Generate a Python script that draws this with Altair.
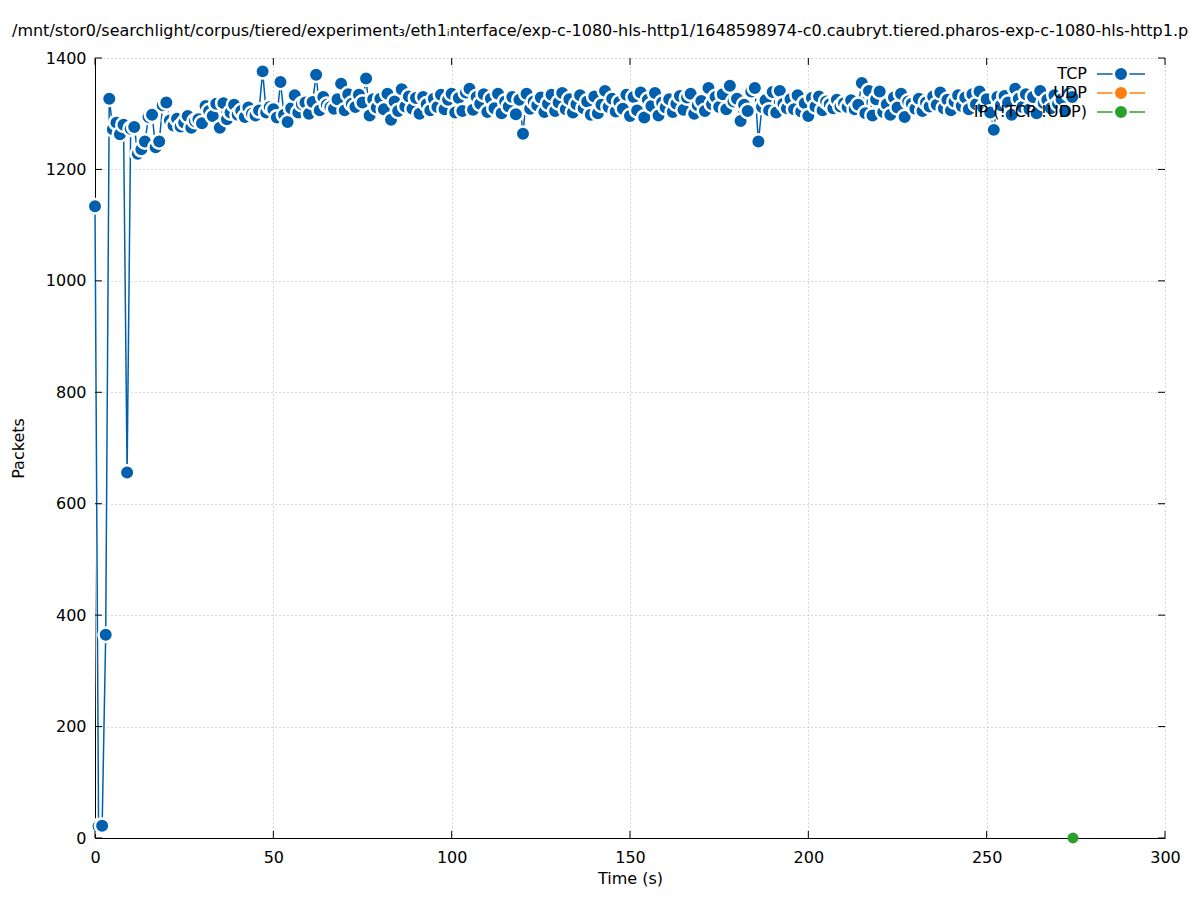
import altair as alt
import pandas as pd

# ---------------- data ----------------
title_text = ("/mnt/stor0/searchlight/corpus/tiered/experiment\u2083/eth1\u1d62nterface/"
              "exp-c-1080-hls-http1/1648598974-c0.caubryt.tiered.pharos-exp-c-1080-hls-http1.pcap")

series_names = ["TCP", "UDP", "IP (!TCP !UDP)"]
series_colors = ["#0060ad", "#ff7f0e", "#2ca02c"]

tcp_time = list(range(0, 275))
tcp_packets = [
    1134, 21, 22, 365, 1327, 1272, 1284, 1263, 1280, 656,
    1273, 1276, 1228, 1236, 1250, 1294, 1298, 1240, 1250, 1315,
    1320, 1288, 1279, 1291, 1277, 1284, 1296, 1275, 1287, 1290,
    1283, 1314, 1305, 1296, 1318, 1275, 1319, 1290, 1302, 1316,
    1298, 1305, 1294, 1311, 1300, 1297, 1306, 1376, 1302, 1312,
    1308, 1293, 1357, 1298, 1285, 1310, 1333, 1302, 1317, 1320,
    1300, 1321, 1370, 1306, 1330, 1316, 1312, 1309, 1326, 1354,
    1306, 1335, 1318, 1312, 1334, 1320, 1363, 1297, 1326, 1311,
    1327, 1308, 1336, 1289, 1322, 1305, 1344, 1313, 1331, 1309,
    1328, 1300, 1330, 1317, 1306, 1327, 1312, 1334, 1308, 1325,
    1336, 1302, 1328, 1305, 1338, 1345, 1307, 1330, 1318, 1335,
    1303, 1327, 1310, 1336, 1301, 1322, 1313, 1330, 1299, 1325,
    1264, 1336, 1309, 1322, 1315, 1329, 1303, 1318, 1334, 1305,
    1320, 1337, 1308, 1326, 1302, 1317, 1333, 1310, 1322, 1298,
    1331, 1301, 1316, 1341, 1312, 1327, 1304, 1321, 1309, 1334,
    1296, 1330, 1306, 1338, 1293, 1325, 1314, 1337, 1297, 1320,
    1311, 1326, 1303, 1318, 1332, 1307, 1329, 1336, 1300, 1315,
    1323, 1305, 1346, 1317, 1330, 1312, 1335, 1308, 1350, 1322,
    1327, 1287, 1316, 1305, 1340, 1346, 1250, 1312, 1324, 1306,
    1339, 1302, 1341, 1318, 1310, 1326, 1308, 1333, 1304, 1319,
    1296, 1328, 1313, 1331, 1306, 1322, 1317, 1310, 1325, 1313,
    1319, 1312, 1324, 1308, 1316, 1355, 1301, 1341, 1297, 1326,
    1340, 1303, 1317, 1298, 1329, 1311, 1336, 1294, 1322, 1318,
    1309, 1327, 1305, 1320, 1313, 1331, 1316, 1338, 1310, 1325,
    1306, 1322, 1333, 1314, 1329, 1308, 1335, 1317, 1340, 1311,
    1326, 1302, 1271, 1330, 1315, 1332, 1320, 1298, 1345, 1327,
    1312, 1335, 1308, 1330, 1301, 1341, 1319, 1325, 1310, 1333,
    1318, 1326, 1305, 1336, 1330,
]

ip_time = [274.2]
ip_packets = [0]

x_ticks = [0, 50, 100, 150, 200, 250, 300]
y_ticks = [0, 200, 400, 600, 800, 1000, 1200, 1400]

# ---------------- layout / style ----------------
W, H = 1070, 780
FONT = "DejaVu Sans"
TICK_LEN = 7
PT_SIZE = 210
PT_HALO = 2.5

tcp_df = pd.DataFrame({"time": tcp_time, "packets": tcp_packets})
ip_df = pd.DataFrame({"time": ip_time, "packets": ip_packets})
xt_df = pd.DataFrame({"time": x_ticks})
yt_df = pd.DataFrame({"packets": y_ticks})
leg_df = pd.DataFrame({"label": series_names, "color": series_colors, "row": [0, 1, 2]})

x_scale = alt.Scale(domain=[0, 300], nice=False, zero=False)
y_scale = alt.Scale(domain=[0, 1400], nice=False)

x_axis = alt.Axis(values=x_ticks, title="Time (s)", grid=True, ticks=False, format="d",
                  gridDash=[1, 3], gridColor="#b0b0b0", gridWidth=1,
                  domainColor="black", domainWidth=1, labelPadding=11,
                  labelFont=FONT, labelFontSize=16, labelColor="black",
                  titleFont=FONT, titleFontSize=16, titleFontWeight="normal",
                  titleColor="black", titleX=535, titleY=40,
                  titleBaseline="middle", titleAlign="center", labelFlush=False,
                  labelOverlap=False)
y_axis = alt.Axis(values=y_ticks, title="Packets", grid=True, ticks=False, format="d",
                  gridDash=[1, 3], gridColor="#b0b0b0", gridWidth=1,
                  domainColor="black", domainWidth=1, labelPadding=9,
                  labelFont=FONT, labelFontSize=16, labelColor="black",
                  titleFont=FONT, titleFontSize=16, titleFontWeight="normal",
                  titleColor="black", titleX=-77, titleY=390,
                  titleAngle=-90, titleBaseline="middle", titleAlign="center",
                  labelFlush=False, labelOverlap=False)

X = alt.X("time:Q", scale=x_scale, axis=x_axis)
Y = alt.Y("packets:Q", scale=y_scale, axis=y_axis)

line_under = alt.Chart(tcp_df).mark_line(color="white", strokeWidth=4).encode(x=X, y=Y)
line_tcp = alt.Chart(tcp_df).mark_line(color=series_colors[0], strokeWidth=1.5).encode(x=X, y=Y)
pts_tcp = alt.Chart(tcp_df).mark_point(
    shape="circle", filled=True, size=PT_SIZE, fill=series_colors[0], stroke="white",
    strokeWidth=PT_HALO, opacity=1, fillOpacity=1, strokeOpacity=1,
).encode(x=X, y=Y)
pts_ip = alt.Chart(ip_df).mark_point(
    shape="circle", filled=True, size=120, fill=series_colors[2], strokeWidth=0,
    opacity=1, fillOpacity=1,
).encode(x=X, y=Y)

# inward tick marks on all four sides
tick_color = "black"
xt_bottom = alt.Chart(xt_df).mark_rule(color=tick_color, strokeWidth=1).encode(
    x=X, y=alt.value(H), y2=alt.value(H - TICK_LEN))
xt_top = alt.Chart(xt_df).mark_rule(color=tick_color, strokeWidth=1).encode(
    x=X, y=alt.value(0), y2=alt.value(TICK_LEN))
yt_left = alt.Chart(yt_df).mark_rule(color=tick_color, strokeWidth=1).encode(
    y=Y, x=alt.value(0), x2=alt.value(TICK_LEN))
yt_right = alt.Chart(yt_df).mark_rule(color=tick_color, strokeWidth=1).encode(
    y=Y, x=alt.value(W), x2=alt.value(W - TICK_LEN))

# legend (top right, inside plot)
leg_base = alt.Chart(leg_df).transform_calculate(ypx="16 + 19 * datum.row")
leg_text = leg_base.mark_text(align="right", baseline="middle", font=FONT, fontSize=16,
                              color="black").encode(
    x=alt.value(992), y=alt.Y("ypx:Q", scale=None, axis=None), text="label:N")
leg_line = leg_base.mark_rule(strokeWidth=1.5).encode(
    x=alt.value(1002), x2=alt.value(1050), y=alt.Y("ypx:Q", scale=None, axis=None),
    color=alt.Color("color:N", scale=None))
leg_pt = leg_base.mark_point(shape="circle", filled=True, size=PT_SIZE, stroke="white",
                             strokeWidth=PT_HALO, opacity=1, fillOpacity=1,
                             strokeOpacity=1).encode(
    x=alt.value(1026), y=alt.Y("ypx:Q", scale=None, axis=None),
    fill=alt.Color("color:N", scale=None))

title_mark = alt.Chart(pd.DataFrame({"t": [title_text]})).mark_text(
    align="left", baseline="alphabetic", font=FONT, fontSize=16, color="black"
).encode(x=alt.value(12 - 95), y=alt.value(36 - 58), text="t:N")

chart = alt.layer(
    line_under, line_tcp, pts_tcp,
    xt_bottom, xt_top, yt_left, yt_right,
    leg_line, leg_pt, leg_text, pts_ip, title_mark,
).properties(
    width=W, height=H,
    autosize=alt.AutoSizeParams(type="none"),
    padding={"left": 87, "top": 50, "right": 24, "bottom": 50},
).configure(background="white").configure_view(stroke=None)

chart.save("out.html", embed_options={"renderer": "svg", "actions": False})
